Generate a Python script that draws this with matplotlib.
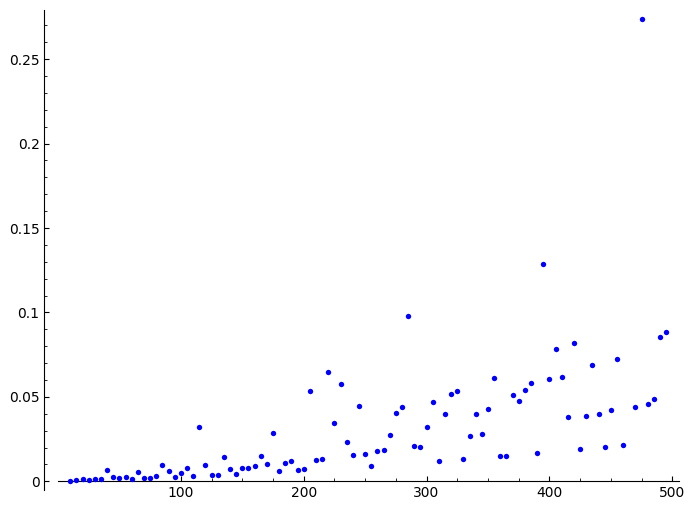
import matplotlib
matplotlib.use("Agg")
import matplotlib.pyplot as plt
from matplotlib.ticker import MultipleLocator, FuncFormatter

# x positions (step 5, x=465 has no value)
x_vals = [10, 15, 20, 25, 30, 35, 40, 45, 50, 55, 60, 65, 70, 75, 80, 85, 90, 95,
          100, 105, 110, 115, 120, 125, 130, 135, 140, 145, 150, 155, 160, 165,
          170, 175, 180, 185, 190, 195, 200, 205, 210, 215, 220, 225, 230, 235,
          240, 245, 250, 255, 260, 265, 270, 275, 280, 285, 290, 295, 300, 305,
          310, 315, 320, 325, 330, 335, 340, 345, 350, 355, 360, 365, 370, 375,
          380, 385, 390, 395, 400, 405, 410, 415, 420, 425, 430, 435, 440, 445,
          450, 455, 460, 470, 475, 480, 485, 490, 495]
y_vals = [0.0004, 0.0008, 0.0012, 0.0010, 0.0014, 0.0012, 0.0069, 0.0024, 0.0020,
          0.0024, 0.0014, 0.0055, 0.0018, 0.0018, 0.0034, 0.0095, 0.0061, 0.0026,
          0.0049, 0.0079, 0.0031, 0.0322, 0.0095, 0.0036, 0.0040, 0.0146, 0.0073,
          0.0041, 0.0079, 0.0081, 0.0089, 0.0148, 0.0101, 0.0288, 0.0059, 0.0111,
          0.0118, 0.0067, 0.0071, 0.0535, 0.0128, 0.0132, 0.0646, 0.0346, 0.0579,
          0.0233, 0.0158, 0.0446, 0.0164, 0.0091, 0.0178, 0.0184, 0.0273, 0.0405,
          0.0440, 0.0976, 0.0207, 0.0203, 0.0324, 0.0470, 0.0118, 0.0401, 0.0517,
          0.0537, 0.0134, 0.0268, 0.0401, 0.0278, 0.0427, 0.0610, 0.0148, 0.0152,
          0.0509, 0.0478, 0.0543, 0.0581, 0.0166, 0.1286, 0.0606, 0.0784, 0.0618,
          0.0383, 0.0818, 0.0190, 0.0389, 0.0687, 0.0399, 0.0203, 0.0422, 0.0723,
          0.0215, 0.0438, 0.2737, 0.0458, 0.0488, 0.0857, 0.0887]

fig = plt.figure(figsize=(6.94, 5.07), dpi=100)
ax = fig.add_axes([58.3 / 694, 17 / 507, 620.7 / 694, 480 / 507])

ax.scatter(x_vals, y_vals, s=15, c="blue", linewidths=0, zorder=5)

ax.set_xlim(0.3, 505.5)
ax.set_ylim(-0.00515, 0.2791)

# sage-like axes
ax.spines["top"].set_visible(False)
ax.spines["right"].set_visible(False)
ax.spines["bottom"].set_position(("data", 0))
ax.spines["left"].set_position(("outward", 10))

ax.xaxis.set_major_locator(MultipleLocator(100))
ax.xaxis.set_minor_locator(MultipleLocator(25))
ax.yaxis.set_major_locator(MultipleLocator(0.05))
ax.yaxis.set_minor_locator(MultipleLocator(0.01))
ax.yaxis.set_major_formatter(FuncFormatter(lambda v, p: "%g" % round(v, 4)))
ax.tick_params(which="both", direction="in")

fig.savefig("out.png", dpi=100)
